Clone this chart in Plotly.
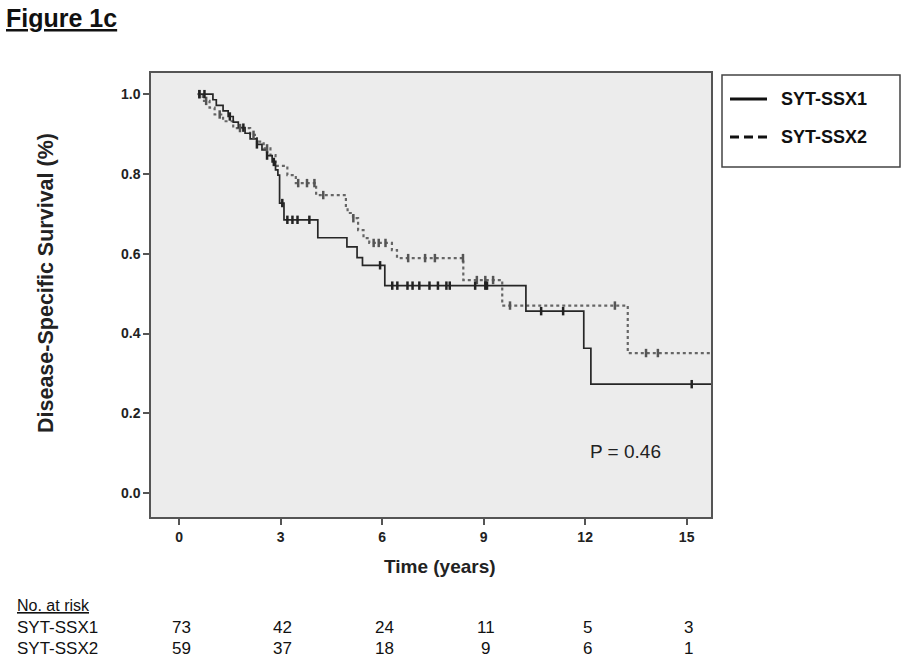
import numpy as np
import plotly.graph_objects as go

# ---------------- data ----------------
ssx1_times = [0.55, 1.0, 1.1, 1.3, 1.45, 1.6, 1.75, 1.95, 2.1, 2.3, 2.45, 2.6, 2.75, 2.85, 2.92,
              2.97, 3.1, 4.1, 4.96, 5.26, 5.42, 6.08, 10.25, 11.96, 12.17, 16.0]
ssx1_surv = [1.0, 0.986, 0.972, 0.958, 0.944, 0.93, 0.916, 0.902, 0.888, 0.874, 0.86, 0.846, 0.83, 0.81, 0.797,
             0.727, 0.685, 0.64, 0.617, 0.59, 0.571, 0.52, 0.456, 0.363, 0.273, 0.273]
ssx1_censor = [0.6, 0.75, 1.5, 1.9, 2.3, 2.6, 2.8, 3.05, 3.2, 3.35, 3.5, 3.85, 5.94,
               6.3, 6.45, 6.75, 6.9, 7.1, 7.4, 7.65, 7.9, 8.0, 8.75, 9.05, 9.1, 10.7, 11.35, 15.15]

ssx2_times = [0.55, 0.7, 0.9, 1.05, 1.3, 1.6, 2.1, 2.3, 2.5, 2.7, 2.85, 3.2, 3.45, 4.05, 4.93, 4.98,
              5.14, 5.29, 5.45, 5.62, 6.29, 6.44, 8.4, 9.55, 13.26, 16.0]
ssx2_surv = [1.0, 0.983, 0.966, 0.949, 0.932, 0.915, 0.898, 0.881, 0.864, 0.847, 0.82, 0.797, 0.777, 0.747,
             0.72, 0.702, 0.689, 0.659, 0.639, 0.627, 0.609, 0.589, 0.534, 0.47, 0.351, 0.351]
ssx2_censor = [0.6, 0.8, 1.2, 1.8, 2.2, 2.6, 3.52, 3.78, 4.0, 4.26, 5.15, 5.75, 5.9, 6.1,
               6.77, 7.27, 7.56, 8.39, 8.8, 9.05, 9.28, 9.78, 12.88, 13.8, 14.15]

x_ticks = [0, 3, 6, 9, 12, 15]
y_ticks = [0.0, 0.2, 0.4, 0.6, 0.8, 1.0]
risk_times = [0, 3, 6, 9, 12, 15]
risk_ssx1 = [73, 42, 24, 11, 5, 3]
risk_ssx2 = [59, 37, 18, 9, 6, 1]
group_names = ["SYT-SSX1", "SYT-SSX2"]
p_text = "P = 0.46"

FONT = "Liberation Sans, Arial, sans-serif"


def surv_at(times, surv, t):
    idx = np.searchsorted(np.array(times), np.array(t), side="right") - 1
    return [surv[i] for i in idx]


fig = go.Figure()

# curves
fig.add_trace(go.Scatter(x=ssx2_times, y=ssx2_surv, mode="lines", line_shape="hv",
                         line=dict(color="#666666", width=2.2, dash="dot"), showlegend=False,
                         name=group_names[1]))
fig.add_trace(go.Scatter(x=ssx1_times, y=ssx1_surv, mode="lines", line_shape="hv",
                         line=dict(color="#262626", width=1.7), showlegend=False,
                         name=group_names[0]))
# censor marks
fig.add_trace(go.Scatter(x=ssx2_censor, y=surv_at(ssx2_times, ssx2_surv, ssx2_censor), mode="markers",
                         marker=dict(symbol="line-ns", size=6, line=dict(width=2.5, color="#555")),
                         showlegend=False))
fig.add_trace(go.Scatter(x=ssx1_censor, y=surv_at(ssx1_times, ssx1_surv, ssx1_censor), mode="markers",
                         marker=dict(symbol="line-ns", size=6, line=dict(width=2.5, color="#222")),
                         showlegend=False))

L, R, T, B = 151, 200, 73, 155
W, H = 911, 672
pw = W - L - R
ph = H - T - B

fig.update_layout(
    width=W, height=H,
    margin=dict(l=L, r=R, t=T, b=B),
    paper_bgcolor="white",
    plot_bgcolor="#ececec",
    font=dict(family=FONT, color="#222"),
    xaxis=dict(range=[-0.83, 15.72], tickvals=x_ticks, ticks="outside", ticklen=6, tickwidth=1.5,
               tickcolor="#555", showgrid=False, zeroline=False, showline=True, mirror=True,
               linecolor="#555", linewidth=1.5,
               tickfont=dict(family=FONT, size=14, color="#222", weight="bold")),
    yaxis=dict(range=[-0.06, 1.053], tickvals=y_ticks, tickformat=".1f", ticks="outside", ticklen=6,
               tickwidth=1.5, tickcolor="#555", showgrid=False, zeroline=False, showline=True,
               mirror=True, linecolor="#555", linewidth=1.5,
               tickfont=dict(family=FONT, size=14, color="#222", weight="bold")),
)


def px(x):
    return (x - L) / pw


def py(y):
    return (H - B - y) / ph


ann = []
# title
ann.append(dict(text="<b><u>Figure 1c</u></b>", xref="paper", yref="paper", x=px(4), y=py(18),
                xanchor="left", yanchor="middle", showarrow=False,
                font=dict(family=FONT, size=25, color="#111")))
# axis titles
ann.append(dict(text="<b>Time (years)</b>", xref="paper", yref="paper", x=px(440), y=py(566),
                xanchor="center", yanchor="middle", showarrow=False,
                font=dict(family=FONT, size=19, color="#222")))
ann.append(dict(text="<b>Disease-Specific Survival (%)</b>", xref="paper", yref="paper", x=px(46),
                y=py(283), xanchor="center", yanchor="middle",
                textangle=-90, showarrow=False, font=dict(family=FONT, size=21.5, color="#222")))
# p value
ann.append(dict(text=p_text, xref="x", yref="y", x=13.2, y=0.105, xanchor="center",
                yanchor="middle", showarrow=False, font=dict(family=FONT, size=19, color="#222")))

# legend box (drawn)
shapes = []
lx0, lx1, ly0, ly1 = 722, 900, 75, 167
shapes.append(dict(type="rect", xref="paper", yref="paper", x0=px(lx0), x1=px(lx1),
                   y0=py(ly1), y1=py(ly0), line=dict(color="#444", width=1.5), fillcolor="white"))
shapes.append(dict(type="line", xref="paper", yref="paper", x0=px(730), x1=px(767),
                   y0=py(99), y1=py(99), line=dict(color="#111", width=3)))
shapes.append(dict(type="line", xref="paper", yref="paper", x0=px(730), x1=px(767),
                   y0=py(137), y1=py(137), line=dict(color="#111", width=3, dash="9px,5px")))
for name, yy in zip(group_names, [99, 137]):
    ann.append(dict(text="<b>" + name + "</b>", xref="paper", yref="paper", x=px(779), y=py(yy),
                    xanchor="left", yanchor="middle", showarrow=False,
                    font=dict(family=FONT, size=18, color="#111")))

# number at risk table
ann.append(dict(text="<u>No. at risk</u>", xref="paper", yref="paper", x=px(15), y=py(605),
                xanchor="left", yanchor="middle", showarrow=False,
                font=dict(family=FONT, size=16, color="#111")))
for name, vals, yy in zip(group_names, [risk_ssx1, risk_ssx2], [627, 648]):
    ann.append(dict(text=name, xref="paper", yref="paper", x=px(15), y=py(yy),
                    xanchor="left", yanchor="middle", showarrow=False,
                    font=dict(family=FONT, size=17, color="#111")))
    for t, v in zip(risk_times, vals):
        ann.append(dict(text=str(v), xref="x", yref="paper", x=t, y=py(yy), xshift=2,
                        xanchor="center", yanchor="middle", showarrow=False,
                        font=dict(family=FONT, size=17, color="#111")))

fig.update_layout(annotations=ann, shapes=shapes)
fig.write_html("out.html", config={"displayModeBar": False},
               post_script="document.body.style.margin='0';")
